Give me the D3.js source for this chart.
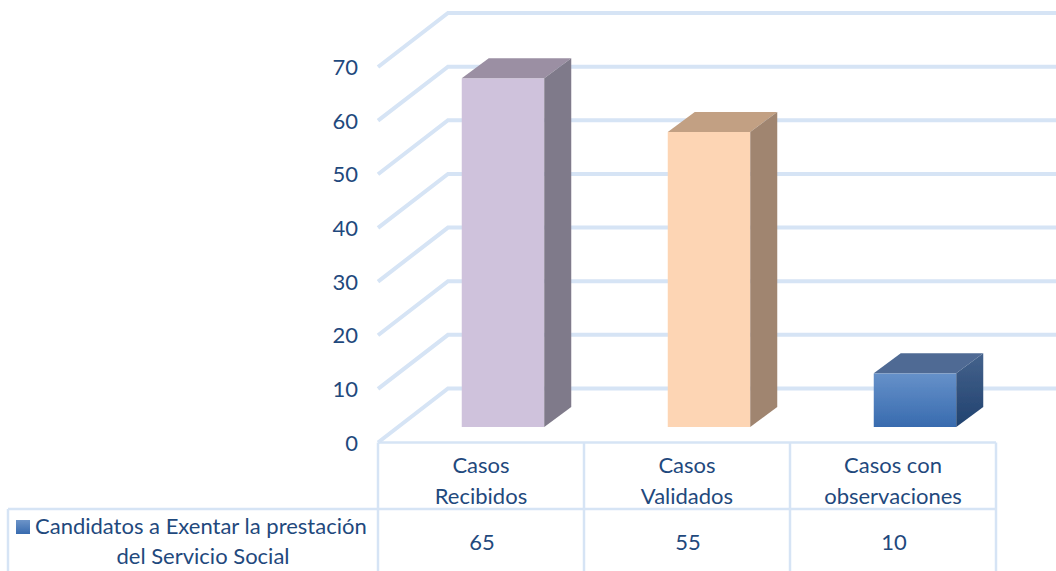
<!DOCTYPE html>
<html>
<head>
<meta charset="utf-8">
<script src="https://cdn.jsdelivr.net/npm/d3@7"></script>
<style>
html, body { margin: 0; padding: 0; background: #fff; overflow: hidden; }
text { font-family: Lato, "Open Sans", sans-serif; fill: #1f497d; font-size: 22px; }
</style>
</head>
<body>
<div class="chart"></div>
<script>
var width = 1056;
var height = 571;

// data
var categories = [["Casos", "Recibidos"], ["Casos", "Validados"], ["Casos con", "observaciones"]];
var values = [65, 55, 10];
var yTicks = [0, 10, 20, 30, 40, 50, 60, 70];
var legendLines = ["Candidatos a Exentar la prestación", "del Servicio Social"];

var faceColors = ["#cfc2dc", "#fdd5b4", "url(#frontBlue)"];
var topColors = ["#9b8fa3", "#c2a083", "#4f6b94"];
var sideColors = ["#7f7a8a", "#a08570", "url(#sideBlue)"];

var gridColor = "#d6e4f5";

// layout
var tableLeft = 8;
var plotLeft = 378, plotRight = 996;
var tableTop = 442.5, tableMid = 509;
var backDx = 70, backDy = -54;
var barDx = 27, barDy = -20;
var barFloor = -15.5; // bars stand a little behind the front edge
var barShift = 22;    // and to the right, same reason

var y = d3.scaleLinear().domain([0, 70]).range([tableTop, 67]);
var x = d3.scaleBand().domain(d3.range(categories.length)).range([plotLeft, plotRight]);
var barWidth = 82.5;

var svg = d3.select(".chart").append("svg")
	.attr("width", width)
	.attr("height", height)
	.style("display", "block");

var defs = svg.append("defs");
var soft = defs.append("filter").attr("id", "soft");
soft.append("feGaussianBlur").attr("stdDeviation", 0.5);

var front = defs.append("linearGradient").attr("id", "frontBlue").attr("x2", 0).attr("y2", 1);
front.append("stop").attr("offset", 0).attr("stop-color", "#6691c9");
front.append("stop").attr("offset", 1).attr("stop-color", "#386baf");
var side = defs.append("linearGradient").attr("id", "sideBlue").attr("x2", 0).attr("y2", 1);
side.append("stop").attr("offset", 0).attr("stop-color", "#44628c");
side.append("stop").attr("offset", 1).attr("stop-color", "#21426f");
var swatch = defs.append("linearGradient").attr("id", "swatchBlue").attr("x2", 0).attr("y2", 1);
swatch.append("stop").attr("offset", 0).attr("stop-color", "#6d94c8");
swatch.append("stop").attr("offset", 1).attr("stop-color", "#386baf");

// gridlines on floor and back wall
svg.append("g").attr("filter", "url(#soft)").selectAll("polyline").data(yTicks).enter().append("polyline")
	.attr("points", function(d) {
		return [[plotLeft, y(d)], [plotLeft + backDx, y(d) + backDy], [width + 5, y(d) + backDy]].join(" ");
	})
	.attr("fill", "none")
	.attr("stroke", gridColor)
	.attr("stroke-width", 4);

// y labels
svg.append("g").selectAll("text").data(yTicks).enter().append("text")
	.attr("x", 358)
	.attr("y", function(d) { return y(d) + 8; })
	.attr("text-anchor", "end")
	.text(function(d) { return d; });

// bars
var bars = svg.append("g").attr("filter", "url(#soft)").selectAll("g").data(values).enter().append("g");

function barLeft(i) { return x(i) + (x.bandwidth() - barWidth) / 2 + barShift; }
function barTop(d) { return y(d) + barFloor; }
function barBottom() { return y(0) + barFloor; }

bars.append("rect")
	.attr("x", function(d, i) { return barLeft(i); })
	.attr("y", barTop)
	.attr("width", barWidth)
	.attr("height", function(d) { return barBottom() - barTop(d); })
	.attr("fill", function(d, i) { return faceColors[i]; });

bars.append("polygon")
	.attr("points", function(d, i) {
		var l = barLeft(i), t = barTop(d);
		return [[l, t], [l + barDx, t + barDy], [l + barWidth + barDx, t + barDy], [l + barWidth, t]].join(" ");
	})
	.attr("fill", function(d, i) { return topColors[i]; });

bars.append("polygon")
	.attr("points", function(d, i) {
		var r = barLeft(i) + barWidth, t = barTop(d), b = barBottom();
		return [[r, t], [r + barDx, t + barDy], [r + barDx, b + barDy], [r, b]].join(" ");
	})
	.attr("fill", function(d, i) { return sideColors[i]; });

// data table lines
var table = svg.append("g")
	.attr("filter", "url(#soft)")
	.attr("stroke", gridColor)
	.attr("fill", "none")
	.attr("stroke-width", 2.5);

table.append("line")
	.attr("x1", plotLeft).attr("x2", plotRight)
	.attr("y1", tableTop).attr("y2", tableTop);
table.append("line")
	.attr("x1", tableLeft).attr("x2", plotRight)
	.attr("y1", tableMid).attr("y2", tableMid);
table.append("line")
	.attr("x1", tableLeft).attr("x2", tableLeft)
	.attr("y1", tableMid).attr("y2", height);
table.selectAll("line.col").data(d3.range(categories.length + 1)).enter().append("line")
	.attr("class", "col")
	.attr("x1", function(i) { return i < categories.length ? x(i) : plotRight; })
	.attr("x2", function(i) { return i < categories.length ? x(i) : plotRight; })
	.attr("y1", tableTop).attr("y2", height);

// category names
var cats = svg.append("g").selectAll("text").data(categories).enter().append("text")
	.attr("text-anchor", "middle");
cats.selectAll("tspan").data(function(d, i) { return d.map(function(t) { return { t: t, i: i }; }); })
	.enter().append("tspan")
	.attr("x", function(d) { return x(d.i) + x.bandwidth() / 2; })
	.attr("y", function(d, j) { return 473 + j * 31; })
	.text(function(d) { return d.t; });

// value row
svg.append("g").selectAll("text").data(values).enter().append("text")
	.attr("text-anchor", "middle")
	.attr("x", function(d, i) { return x(i) + x.bandwidth() / 2 + 1; })
	.attr("y", 550)
	.text(function(d) { return d; });

// legend key and series name
svg.append("rect")
	.attr("x", 16).attr("y", 520)
	.attr("width", 14).attr("height", 14)
	.attr("fill", "url(#swatchBlue)");
svg.append("text")
	.attr("x", 35).attr("y", 534)
	.text(legendLines[0]);
svg.append("text")
	.attr("x", 203).attr("y", 564)
	.attr("text-anchor", "middle")
	.text(legendLines[1]);
</script>
</body>
</html>
